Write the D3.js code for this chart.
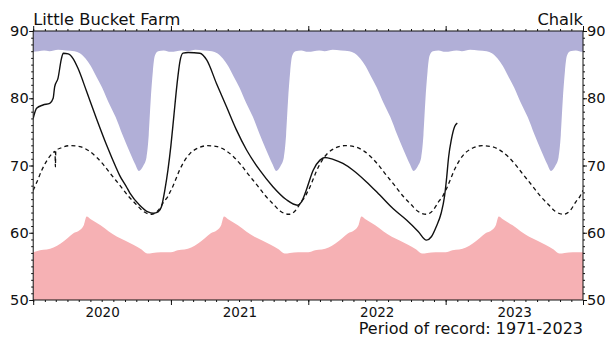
<!DOCTYPE html>
<html>
<head>
<meta charset="utf-8">
<script src="https://cdn.jsdelivr.net/npm/d3@7"></script>
<style>
  body { margin: 0; background: #fff; }
  svg { display: block; }
  text { font-family: "DejaVu Sans", sans-serif; fill: #111; }
</style>
</head>
<body>
<svg id="chart" width="605" height="340"></svg>
<script>
// ---- Data -----------------------------------------------------------------
const siteName = "Little Bucket Farm";
const aquifer = "Chalk";
const recordText = "Period of record: 1971-2023";

const years = [2020, 2021, 2022, 2023];
const yearLabels = ["2020", "2021", "2022", "2023"];
const yTicks = [50, 60, 70, 80, 90];

// Historical maximum level by day of year (m AOD)
const maxDays = ["01-01","01-15","01-30","02-13","03-07","03-29","04-20","05-04","05-19","06-02",
                 "06-17","07-02","07-20","08-07","08-25","09-12","09-27","10-08","10-19","10-28",
                 "11-03","11-08","11-14","11-19","11-28","12-13","12-31"];
const maxLevel = [86.9, 87.0, 87.1, 87.0, 87.2, 87.1, 87.0, 86.7, 85.9, 84.8,
                  83.2, 81.6, 79.3, 77.2, 74.6, 72.2, 70.3, 69.2, 69.9, 71.2,
                  74.5, 79.5, 84.0, 86.3, 87.0, 87.1, 86.9];

// Historical minimum level by day of year
const minDays = ["01-01","01-19","02-06","02-24","03-14","04-01","04-16","05-04","05-15","05-22",
                 "06-02","06-28","07-20","08-11","09-02","09-23","10-15","10-30","11-13","12-05","12-31"];
const minLevel = [57.1, 57.4, 57.5, 57.8, 58.4, 59.2, 59.9, 60.4, 61.2, 62.4,
                  62.0, 61.1, 60.2, 59.4, 58.8, 58.2, 57.5, 56.9, 57.0, 57.1, 57.1];

// Long-term average level by day of year
const avgDays = ["01-01","01-12","01-23","02-06","02-21","03-14","04-08","05-04","05-30","06-18",
                 "07-06","07-24","08-19","09-09","10-01","10-19","11-10","11-28","12-13","12-24","12-31"];
const avgLevel = [66.3, 67.7, 69.2, 70.7, 71.8, 72.6, 72.95, 72.8, 72.1, 71.2,
                  70.1, 68.8, 67.0, 65.5, 64.2, 63.2, 62.75, 63.3, 64.6, 65.4, 66.2];
// Leap-day average (fewer years on record)
const avgLeapDates = ["2020-02-28", "2020-02-29", "2020-03-01"];
const avgLeapLevel = [72.1, 69.8, 72.2];

// Observed groundwater level
const obsDates = ["2020-01-01","2020-01-10","2020-01-27","2020-02-14","2020-02-23","2020-02-27","2020-03-07",
  "2020-03-16","2020-03-21","2020-04-03","2020-04-16","2020-04-29","2020-05-22","2020-06-17","2020-07-14",
  "2020-08-09","2020-08-18","2020-09-05","2020-09-14","2020-10-10","2020-11-01","2020-11-15","2020-11-28",
  "2020-12-07","2020-12-16","2020-12-24","2021-01-01","2021-01-09","2021-01-17","2021-01-25","2021-02-02",
  "2021-02-16","2021-03-19","2021-04-06","2021-05-02","2021-05-29","2021-06-24","2021-07-21","2021-08-25",
  "2021-09-29","2021-11-04","2021-12-03","2021-12-14","2021-12-27","2022-01-14","2022-02-01","2022-02-14",
  "2022-03-08","2022-04-03","2022-04-30","2022-06-04","2022-07-10","2022-08-14","2022-09-19","2022-10-20",
  "2022-11-11","2022-11-24","2022-12-07","2022-12-20","2022-12-29","2023-01-03","2023-01-09","2023-01-16",
  "2023-01-25","2023-02-01"];
const obsLevel = [77.0, 78.5, 79.0, 79.25, 80.0, 81.7, 83.0,
  85.9, 86.7, 86.6, 85.9, 84.45, 81.0, 77.0, 73.05,
  69.6, 68.5, 66.8, 65.9, 64.1, 63.1, 62.9, 63.1,
  63.9, 66.4, 69.3, 73.0, 77.5, 82.0, 85.5, 86.7,
  86.8, 86.7, 85.7, 82.2, 78.7, 75.3, 72.3, 69.3,
  66.85, 64.9, 64.1, 64.6, 66.4, 69.3, 70.8, 71.2,
  70.9, 70.3, 69.3, 67.6, 65.6, 63.6, 61.9, 60.2,
  58.9, 59.4, 60.9, 62.9, 65.4, 67.8, 71.3, 73.8,
  75.8, 76.3];

// ---- Build series ---------------------------------------------------------
const parse = d3.timeParse("%Y-%m-%d");
const fmtDay = d3.timeFormat("%Y-%m-%d");

function repeatByYear(days, vals) {
  const out = [];
  years.forEach(yv => days.forEach((d, i) => out.push({ date: parse(`${yv}-${d}`), value: vals[i] })));
  out.push({ date: parse(`${years[years.length - 1] + 1}-${days[0]}`), value: vals[0] });
  return out;
}

const maxSeries = repeatByYear(maxDays, maxLevel);
const minSeries = repeatByYear(minDays, minLevel);
const avgSeries = repeatByYear(avgDays, avgLevel)
  .filter(p => !avgLeapDates.includes(fmtDay(p.date)))
  .concat(avgLeapDates.map((d, i) => ({ date: parse(d), value: avgLeapLevel[i] })))
  .sort((a, b) => a.date - b.date);
const obsSeries = obsDates.map((d, i) => ({ date: parse(d), value: obsLevel[i] }));

// ---- Layout ---------------------------------------------------------------
const svg = d3.select("#chart");
const plotL = 33.2, plotR = 583, plotT = 31, plotB = 300;

const x = d3.scaleTime()
  .domain([parse(`${years[0]}-01-01`), parse(`${years[years.length - 1] + 1}-01-01`)])
  .range([plotL, plotR]);
const y = d3.scaleLinear().domain([50, 90]).range([plotB, plotT]);

svg.append("clipPath").attr("id", "plot-clip")
  .append("rect").attr("x", plotL).attr("y", plotT)
  .attr("width", plotR - plotL).attr("height", plotB - plotT);

const plot = svg.append("g").attr("clip-path", "url(#plot-clip)");

// Band above historical maximum
plot.append("path")
  .datum(maxSeries)
  .attr("fill", "#b1afd7")
  .attr("d", d3.area().curve(d3.curveMonotoneX)
    .x(d => x(d.date)).y0(y(90)).y1(d => y(d.value)));

// Band below historical minimum
plot.append("path")
  .datum(minSeries)
  .attr("fill", "#f6b1b4")
  .attr("d", d3.area().curve(d3.curveMonotoneX)
    .x(d => x(d.date)).y0(y(50)).y1(d => y(d.value)));

// Long-term average
plot.append("path")
  .datum(avgSeries)
  .attr("fill", "none")
  .attr("stroke", "#111")
  .attr("stroke-width", 1.3)
  .attr("stroke-dasharray", "4,3.2")
  .attr("d", d3.line().curve(d3.curveMonotoneX).x(d => x(d.date)).y(d => y(d.value)));

// Observed level
plot.append("path")
  .datum(obsSeries)
  .attr("fill", "none")
  .attr("stroke", "#111")
  .attr("stroke-width", 1.4)
  .attr("stroke-linejoin", "round")
  .attr("d", d3.line().curve(d3.curveMonotoneX).x(d => x(d.date)).y(d => y(d.value)));

// ---- Axes -----------------------------------------------------------------
function styleAxis(g) {
  g.select(".domain").remove();
  g.selectAll(".tick line").attr("stroke", "#111").attr("stroke-width", 1);
}

const yMinor = d3.range(50, 91);
svg.append("g").attr("transform", `translate(${plotL},0)`)
  .call(d3.axisLeft(y).tickValues(yMinor).tickSize(2).tickFormat("")).call(styleAxis);
svg.append("g").attr("transform", `translate(${plotR},0)`)
  .call(d3.axisRight(y).tickValues(yMinor).tickSize(2).tickFormat("")).call(styleAxis);

const yl = svg.append("g").attr("transform", `translate(${plotL},0)`)
  .call(d3.axisLeft(y).tickValues(yTicks).tickSize(4).tickPadding(0.5)).call(styleAxis);
const yr = svg.append("g").attr("transform", `translate(${plotR},0)`)
  .call(d3.axisRight(y).tickValues(yTicks).tickSize(4).tickPadding(0)).call(styleAxis);
[yl, yr].forEach(g => g.selectAll("text")
  .attr("font-family", "DejaVu Sans, sans-serif").attr("font-size", 14.6).attr("fill", "#111"));

const months = d3.timeMonth.range(x.domain()[0], d3.timeDay.offset(x.domain()[1], 1));
const yearStarts = d3.timeYear.range(x.domain()[0], d3.timeDay.offset(x.domain()[1], 1));

svg.append("g").attr("transform", `translate(0,${plotB})`)
  .call(d3.axisBottom(x).tickValues(months).tickSize(2).tickFormat("")).call(styleAxis);
svg.append("g").attr("transform", `translate(0,${plotT})`)
  .call(d3.axisTop(x).tickValues(months).tickSize(2).tickFormat("")).call(styleAxis);
svg.append("g").attr("transform", `translate(0,${plotB})`)
  .call(d3.axisBottom(x).tickValues(yearStarts).tickSize(5).tickFormat("")).call(styleAxis);
svg.append("g").attr("transform", `translate(0,${plotT})`)
  .call(d3.axisTop(x).tickValues(yearStarts).tickSize(5).tickFormat("")).call(styleAxis);

// Year labels centred within each year
const midYears = years.map(yv => parse(`${yv}-07-02`));
const xl = svg.append("g").attr("transform", `translate(0,${plotB})`)
  .call(d3.axisBottom(x).tickValues(midYears).tickSize(0).tickPadding(7)
    .tickFormat((d, i) => yearLabels[i]));
xl.select(".domain").remove();
xl.selectAll("text").attr("font-family", "DejaVu Sans, sans-serif").attr("font-size", 13.5).attr("fill", "#111");

// Frame
svg.append("rect")
  .attr("x", plotL).attr("y", plotT).attr("width", plotR - plotL).attr("height", plotB - plotT)
  .attr("fill", "none").attr("stroke", "#111").attr("stroke-width", 1);

// ---- Text -----------------------------------------------------------------
svg.append("text").attr("x", plotL).attr("y", 25).attr("font-size", 16.3).text(siteName);
svg.append("text").attr("x", plotR).attr("y", 25).attr("font-size", 16.3)
  .attr("text-anchor", "end").text(aquifer);
svg.append("text").attr("x", plotR).attr("y", 334).attr("font-size", 16)
  .attr("text-anchor", "end").text(recordText);
</script>
</body>
</html>
